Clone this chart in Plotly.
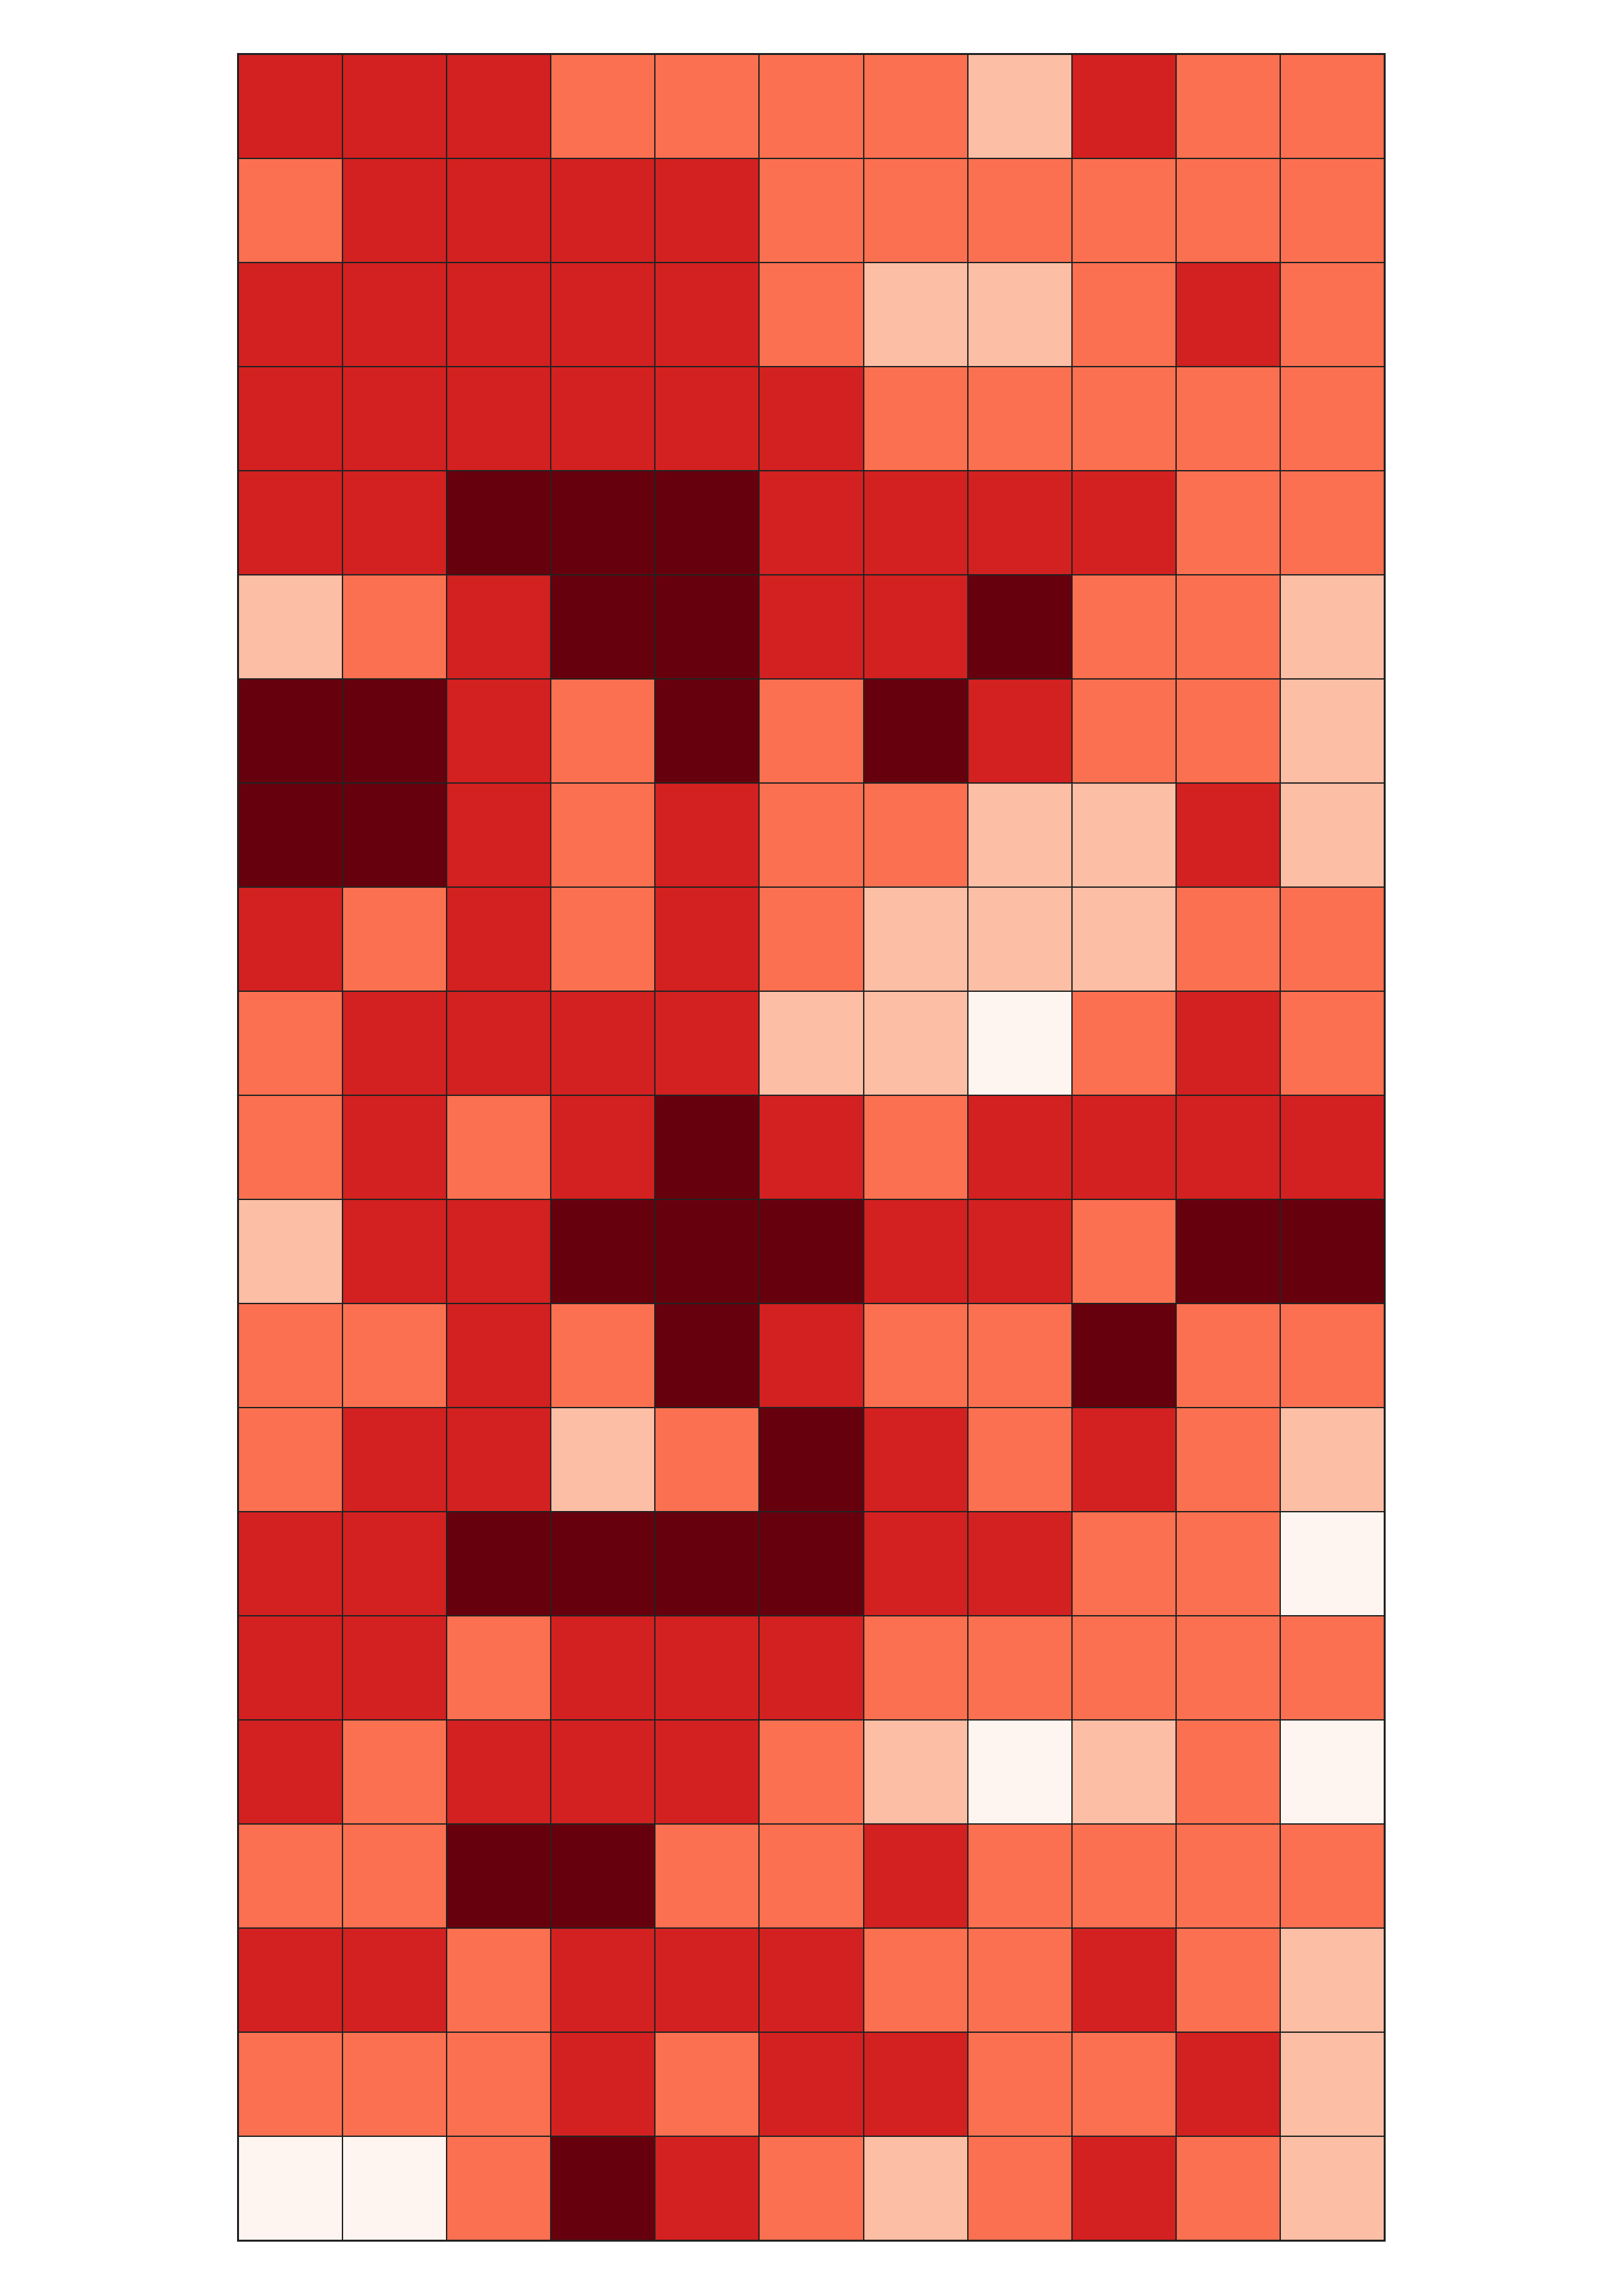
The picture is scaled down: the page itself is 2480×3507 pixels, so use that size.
import plotly.graph_objects as go

# level codes: 0 lightest .. 4 darkest, rows listed top to bottom
rows = [
    [3, 3, 3, 2, 2, 2, 2, 1, 3, 2, 2],
    [2, 3, 3, 3, 3, 2, 2, 2, 2, 2, 2],
    [3, 3, 3, 3, 3, 2, 1, 1, 2, 3, 2],
    [3, 3, 3, 3, 3, 3, 2, 2, 2, 2, 2],
    [3, 3, 4, 4, 4, 3, 3, 3, 3, 2, 2],
    [1, 2, 3, 4, 4, 3, 3, 4, 2, 2, 1],
    [4, 4, 3, 2, 4, 2, 4, 3, 2, 2, 1],
    [4, 4, 3, 2, 3, 2, 2, 1, 1, 3, 1],
    [3, 2, 3, 2, 3, 2, 1, 1, 1, 2, 2],
    [2, 3, 3, 3, 3, 1, 1, 0, 2, 3, 2],
    [2, 3, 2, 3, 4, 3, 2, 3, 3, 3, 3],
    [1, 3, 3, 4, 4, 4, 3, 3, 2, 4, 4],
    [2, 2, 3, 2, 4, 3, 2, 2, 4, 2, 2],
    [2, 3, 3, 1, 2, 4, 3, 2, 3, 2, 1],
    [3, 3, 4, 4, 4, 4, 3, 3, 2, 2, 0],
    [3, 3, 2, 3, 3, 3, 2, 2, 2, 2, 2],
    [3, 2, 3, 3, 3, 2, 1, 0, 1, 2, 0],
    [2, 2, 4, 4, 2, 2, 3, 2, 2, 2, 2],
    [3, 3, 2, 3, 3, 3, 2, 2, 3, 2, 1],
    [2, 2, 2, 3, 2, 3, 3, 2, 2, 3, 1],
    [0, 0, 2, 4, 3, 2, 1, 2, 3, 2, 1],
]
columns = list(range(len(rows[0])))
row_ids = list(range(len(rows)))

level_colors = ["#fff5f0", "#fcbea5", "#fb7050", "#d32020", "#67000d"]
n = len(level_colors)
colorscale = []
for i, c in enumerate(level_colors):
    colorscale.append([i / n, c])
    colorscale.append([(i + 1) / n, c])

fig = go.Figure(
    go.Heatmap(
        z=rows,
        x=columns,
        y=row_ids,
        zmin=-0.5,
        zmax=n - 0.5,
        colorscale=colorscale,
        showscale=False,
        xgap=2,
        ygap=2,
        hoverinfo="skip",
    )
)

fig.update_layout(
    width=2464,
    height=3491,
    margin=dict(l=356, r=358, t=75, b=77, pad=0),
    paper_bgcolor="white",
    plot_bgcolor="#222222",
)
fig.update_xaxes(
    visible=True, showticklabels=False, ticks="", showgrid=False, zeroline=False,
    showline=True, linecolor="#222222", linewidth=2, mirror=True,
    range=[-0.5, len(columns) - 0.5],
)
fig.update_yaxes(
    visible=True, showticklabels=False, ticks="", showgrid=False, zeroline=False,
    showline=True, linecolor="#222222", linewidth=2, mirror=True,
    autorange="reversed",
)

fig.write_html("out.html")
